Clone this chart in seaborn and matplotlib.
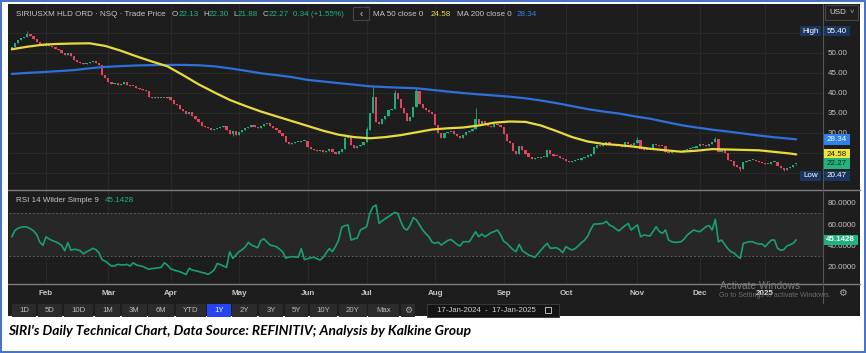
import matplotlib
matplotlib.use("Agg")
import matplotlib.pyplot as plt
from matplotlib.patches import Rectangle
from matplotlib.lines import Line2D
import seaborn as sns
import pandas as pd
import numpy as np

# ---------------------------------------------------------------------------
# Data (SIRI daily, 17-Jan-2024 .. 17-Jan-2025)
# ---------------------------------------------------------------------------
holidays = ['2024-02-19', '2024-03-29', '2024-05-27', '2024-06-19', '2024-07-04',
            '2024-09-02', '2024-11-28', '2024-12-25', '2025-01-01', '2025-01-09']
dates = pd.bdate_range('2024-01-17', '2025-01-17', freq='C', holidays=holidays)

# daily closes (open of each candle is taken as the prior close)
closes = [
    51.5, 52.4, 53.2, 53.8, 54.0, 54.8, 54.3, 53.5, 52.6, 52.0,
    51.6, 52.2, 51.6, 51.4, 51.0, 50.8, 50.0, 49.5, 49.9, 49.2,
    48.3, 47.6, 47.5, 47.2, 47.4, 47.6, 47.9, 47.4, 47.0, 44.5,
    43.8, 42.6, 42.2, 42.5, 42.0, 42.2, 42.6, 42.0, 41.8, 41.6,
    41.3, 41.0, 40.7, 40.4, 38.9, 38.8, 38.9, 38.7, 38.8, 38.6,
    38.9, 38.1, 37.2, 36.9, 36.0, 35.4, 34.6, 35.1, 34.3, 33.4,
    32.6, 31.8, 31.5, 31.1, 30.8, 31.0, 31.2, 31.4, 31.6, 30.6,
    29.7, 30.4, 29.5, 30.3, 30.8, 31.2, 31.5, 31.9, 31.5, 31.2,
    31.6, 32.2, 32.5, 31.6, 31.2, 30.6, 29.9, 29.1, 27.6, 27.3,
    27.5, 27.6, 27.7, 27.9, 28.0, 26.5, 25.9, 25.6, 25.4, 25.6,
    25.3, 25.5, 26.0, 25.1, 24.6, 25.3, 26.0, 28.6, 28.9, 27.0,
    26.3, 26.6, 26.9, 27.6, 30.8, 35.0, 39.0, 32.8, 32.2, 33.4,
    34.2, 35.6, 36.0, 40.0, 38.4, 36.2, 35.0, 33.0, 34.0, 36.5,
    40.5, 37.2, 36.3, 35.8, 35.1, 34.8, 31.9, 30.0, 28.7, 29.9,
    30.1, 30.3, 29.7, 29.3, 28.8, 29.5, 30.1, 30.4, 31.0, 33.5,
    32.3, 32.9, 32.2, 31.7, 31.5, 32.2, 32.0, 31.4, 29.6, 28.0,
    27.5, 25.4, 24.6, 26.7, 25.6, 24.8, 23.9, 23.4, 23.6, 23.7,
    23.9, 24.0, 25.6, 24.6, 24.3, 24.1, 23.7, 23.4, 22.9, 22.6,
    22.9, 23.1, 23.3, 23.6, 23.9, 24.3, 24.7, 26.3, 26.9, 26.6,
    27.0, 27.6, 26.9, 27.1, 26.8, 26.6, 26.5, 27.6, 27.2, 27.0,
    27.5, 28.3, 26.0, 25.8, 25.7, 25.8, 27.2, 27.0, 26.8, 26.6,
    25.1, 25.0, 25.2, 25.1, 25.3, 25.2, 25.6, 25.9, 26.1, 26.3,
    26.8, 27.2, 27.0, 26.8, 27.3, 27.8, 28.5, 25.3, 25.6, 25.0,
    23.2, 22.9, 21.8, 21.4, 20.9, 22.6, 22.9, 23.1, 23.3, 23.0,
    22.8, 22.5, 22.3, 22.1, 22.6, 22.7, 21.7, 21.2, 20.8, 21.1,
    21.5, 21.93, 22.27,
]
first_open = 51.0
last_open, last_high, last_low = 22.13, 22.30, 21.88

# visible wick spikes
spike_days = [5, 11, 107, 114, 116, 123, 130, 149, 201, 226]
spike_highs = [55.40, 52.7, 29.6, 31.5, 41.6, 40.6, 41.2, 36.2, 28.9, 29.0]
dip_days = [71, 234, 248]
dip_lows = [29.2, 20.47, 20.5]

# moving averages, read every fifth session
ma_days = list(range(0, 251, 5)) + [252]
ma50 = [50.85, 51.5, 52.0, 52.2, 52.3, 52.35, 51.7, 50.5, 49.1, 47.8,
        46.6, 44.4, 42.1, 40.1, 38.2, 36.7, 35.3, 34.1, 32.9, 31.7,
        30.5, 29.5, 28.9, 28.6, 28.9, 29.4, 30.1, 30.8, 31.1, 31.3,
        31.8, 32.5, 32.8, 32.7, 31.8, 30.4, 28.9, 27.8, 27.2, 26.9,
        26.5, 26.0, 25.6, 25.25, 25.5, 25.9, 25.8, 25.7, 25.6, 25.2,
        24.8, 24.58]
ma200 = [44.7, 44.95, 45.15, 45.4, 45.65, 46.1, 46.45, 46.65, 46.8, 46.9,
         46.95, 46.95, 46.85, 46.6, 46.1, 45.5, 44.85, 44.4, 43.9, 43.2,
         42.8, 42.4, 42.0, 41.6, 41.4, 41.25, 41.1, 40.7, 40.3, 39.9,
         39.6, 39.3, 39.0, 38.6, 38.05, 37.4, 36.65, 35.9, 35.3, 34.8,
         34.1, 33.5, 32.7, 31.9, 31.3, 30.75, 30.3, 29.8, 29.3, 28.85,
         28.5, 28.34]

# RSI 14 (Wilder), one value per session
rsi = [
    48, 54, 56, 57, 57.5, 57, 55.5, 53.5, 50, 43,
    40, 48, 46, 44.5, 43.5, 42, 40, 35, 42.5, 35.5,
    36.3, 36, 35, 32, 34, 35.5, 37.2, 36, 33, 26.5,
    25.3, 23, 20.6, 20.6, 22.2, 21.8, 21.6, 22.2, 20.6, 23.7,
    21.6, 21, 20.3, 19, 17.5, 18.3, 18.5, 19, 19.4, 23.7,
    21.6, 18, 17, 16.2, 15.3, 14, 12.8, 18.5, 16.9, 16.2,
    15.5, 14.6, 14, 12.8, 14.5, 17, 23, 22, 20.6, 19.4,
    34, 27.8, 31, 34.1, 36, 38.5, 42.8, 40.3, 39, 37.8,
    44.5, 46.2, 43, 40.3, 39.5, 38.8, 36.5, 34, 28, 29,
    29.4, 29.2, 28.8, 37, 26.6, 27.5, 28.3, 28.8, 27.5, 26.3,
    28.5, 33, 37, 34.1, 39, 45, 57, 58.5, 59.1, 45,
    46, 47, 54.4, 56, 57.5, 70, 76, 77.8, 60.6, 63,
    65, 67, 69, 70.9, 70, 62, 56, 54.4, 59, 66,
    63.8, 59, 54.4, 51, 48.1, 43, 42, 43, 40.3, 42.5,
    44.5, 45.6, 43.4, 40.9, 39.4, 43.4, 43.4, 43.4, 48.1, 52.8,
    48.1, 50.6, 48.1, 50, 51.9, 53, 54.4, 50, 44, 41.9,
    39, 36, 34.1, 40.9, 35, 33, 31, 30, 28.8, 32,
    35.6, 39, 41.9, 37.2, 37.5, 37.8, 36, 33.1, 38.8, 37,
    35.6, 37, 39.5, 42.5, 45, 48.5, 55, 60, 60, 60.3,
    60.6, 62.5, 59.1, 57.8, 55.5, 53.5, 56, 58.5, 60.6, 54.4,
    57, 59.1, 48.1, 49.7, 49.2, 48.8, 53, 57.5, 53, 51.3,
    54.4, 45, 43.5, 42.8, 43, 43.4, 46, 49.7, 52, 54.4,
    53.5, 52.8, 55, 57.5, 58.5, 54.4, 64.4, 43.4, 45, 41,
    37, 34.1, 33, 30, 27.8, 41.9, 42.8, 43.4, 43.4, 42,
    41.3, 41.3, 38.8, 42, 45, 45, 37.2, 35.5, 36, 39.4,
    40.5, 41.9, 45.1428,
]

price_ticks = [20, 25, 30, 35, 40, 45, 50, 55]
price_tick_shown = [30, 35, 40, 45, 50]
rsi_ticks = [20, 40, 60, 80]
period_buttons = ['1D', '5D', '10D', '1M', '3M', '6M', 'YTD', '1Y', '2Y', '3Y', '5Y', '10Y', '20Y', 'Max']
caption = "SIRI's Daily Technical Chart, Data Source: REFINITIV; Analysis by Kalkine Group"

# ---------------------------------------------------------------------------
# Look
# ---------------------------------------------------------------------------
W, H = 866, 353
BG = '#1d1d1d'
BAND = '#272727'
GRID = '#2a2a2a'
TXT = '#c6c6c6'
UP, DOWN = '#1fae7b', '#e5435d'
MA50_C, MA200_C, RSI_C = '#eadb3c', '#2f6fdc', '#1a9f74'
NAVY = '#1b3561'

sns.set_style('dark', {'axes.facecolor': BG, 'grid.color': GRID, 'axes.edgecolor': BG})
plt.rcParams['font.family'] = ['Liberation Sans', 'DejaVu Sans']

fig = plt.figure(figsize=(W / 100, H / 100), dpi=100)
fig.patch.set_facecolor('white')


def fx(px):
    return px / W


def fy(py):
    return 1 - py / H


def box(l, t, r, b):
    return [fx(l), fy(b), (r - l) / W, (b - t) / H]


def rect(l, t, r, b, fc, ec='none', lw=0, z=1):
    fig.add_artist(Rectangle((fx(l), fy(b)), (r - l) / W, (b - t) / H, transform=fig.transFigure,
                             fc=fc, ec=ec, lw=lw, zorder=z))


def hline(py, l, r, color, lw=1, z=1.5):
    fig.add_artist(Line2D([fx(l), fx(r)], [fy(py), fy(py)], transform=fig.transFigure,
                          color=color, lw=lw, zorder=z))


def label(px, py, s, color=TXT, size=5.8, **kw):
    return fig.text(fx(px), fy(py), s, color=color, fontsize=size, va='center', **kw)


# dark panel behind everything
rect(8, 3.5, 860, 316, BG, z=-2)

days = np.arange(len(dates))
pos = pd.Series(days, index=dates)
firsts = pos.groupby([dates.year, dates.month]).first().iloc[1:]
month_pos = firsts.values
month_lab = [str(y) if m == 1 else pd.Timestamp(year=y, month=m, day=1).strftime('%b')
             for (y, m) in firsts.index]

# ---------------------------------------------------------------------------
# Price panel
# ---------------------------------------------------------------------------
ax_p = fig.add_axes(box(9, 4, 823, 190))
ax_p.set_xlim(-0.9, 260.6)
ax_p.set_ylim(15.675, 62.175)

opens = [first_open] + closes[:-1]
opens[-1] = last_open
o = np.array(opens)
c = np.array(closes)
lo = np.minimum(o, c)
hi = np.maximum(o, c)
body = np.maximum(hi - lo, 0.25)
colors = [UP if cc >= oo else DOWN for oo, cc in zip(o, c)]

wick_hi = hi.copy()
wick_lo = lo.copy()
wick_hi[spike_days] = spike_highs
wick_lo[dip_days] = dip_lows
wick_hi[-1] = last_high
wick_lo[-1] = last_low
ax_p.vlines(days, wick_lo, wick_hi, colors=colors, lw=0.6, zorder=2)
ax_p.bar(days, body, bottom=lo, width=0.72, color=colors, linewidth=0, zorder=3)

ma_df = pd.DataFrame({'day': ma_days, 'ma50': ma50, 'ma200': ma200})
sns.lineplot(data=ma_df, x='day', y='ma200', ax=ax_p, color=MA200_C, lw=1.6, zorder=4)
sns.lineplot(data=ma_df, x='day', y='ma50', ax=ax_p, color=MA50_C, lw=1.6, zorder=4)

ax_p.set_xticks(month_pos)
ax_p.set_yticks(price_ticks)
ax_p.set_yticklabels([f'{t:.2f}' if t in price_tick_shown else '' for t in price_ticks])
ax_p.yaxis.tick_right()
ax_p.tick_params(axis='y', length=0, pad=3.6, labelsize=5.8, labelcolor=TXT)
ax_p.tick_params(axis='x', length=0, labelbottom=False)
ax_p.grid(True, color=GRID, lw=0.7)
ax_p.set_xlabel('')
ax_p.set_ylabel('')
for s in ax_p.spines.values():
    s.set_visible(False)

# ---------------------------------------------------------------------------
# RSI panel
# ---------------------------------------------------------------------------
ax_r = fig.add_axes(box(9, 190, 823, 284))
ax_r.set_xlim(-0.9, 260.6)
ax_r.set_ylim(3.79, 91.9)
ax_r.axhspan(30, 70, color=BAND, lw=0, zorder=0.5)
for lvl in (30, 70):
    ax_r.axhline(lvl, color='#5c5c5c', lw=0.7, ls=(0, (2, 2)), zorder=1)
sns.lineplot(x=days, y=rsi, ax=ax_r, color=RSI_C, lw=1.2, zorder=4)

ax_r.set_xticks(month_pos)
ax_r.set_xticklabels(month_lab)
ax_r.set_yticks(rsi_ticks)
ax_r.set_yticklabels([f'{t:.4f}' for t in rsi_ticks])
ax_r.yaxis.tick_right()
ax_r.tick_params(axis='y', length=0, pad=3.6, labelsize=5.8, labelcolor=TXT)
ax_r.tick_params(axis='x', length=0, pad=4.6, labelsize=5.8, labelcolor=TXT)
for t in ax_r.get_xticklabels():
    t.set_fontweight('bold')
    if t.get_text() == '2025':
        t.set_color('#e0e0e0')
ax_r.grid(True, axis='x', color=GRID, lw=0.7)
ax_r.grid(False, axis='y')
ax_r.set_xlabel('')
ax_r.set_ylabel('')
for s in ax_r.spines.values():
    s.set_visible(False)

# panel separators and value axis line
hline(190, 8, 860, '#7c7c7c', lw=1.0)
hline(284, 8, 860, '#7c7c7c', lw=1.0)
fig.add_artist(Line2D([fx(823), fx(823)], [fy(4), fy(303)], transform=fig.transFigure,
                      color='#555555', lw=0.8, zorder=1.5))

# ---------------------------------------------------------------------------
# Header texts
# ---------------------------------------------------------------------------
chg = closes[-1] - closes[-2]
G = '#22b37d'
label(16, 14, 'SIRIUSXM HLD ORD · NSQ · Trade Price')
label(172, 14, 'O')
label(178.5, 14, f'{last_open:.2f}', G)
label(203, 14, 'H')
label(208.5, 14, f'{last_high:.2f}', G)
label(233.5, 14, 'L')
label(238, 14, f'{last_low:.2f}', G)
label(262.5, 14, 'C')
label(268.5, 14, f'{closes[-1]:.2f}', G)
label(293, 14, f'{chg:.2f} (+{chg / closes[-2] * 100:.2f}%)', G)
rect(353, 7, 369, 20, BG, ec='#464646', lw=0.8, z=2)
label(361, 13.5, '‹', '#d0d0d0', size=7, ha='center')
label(373, 14, 'MA 50 close 0')
label(431, 14, f'{ma50[-1]:.2f}', MA50_C)
label(457, 14, 'MA 200 close 0')
label(517, 14, f'{ma200[-1]:.2f}', '#3a7fe6')

rect(825, 5, 858, 20, '#1f1f1f', ec='#454545', lw=0.8, z=2)
label(829, 12.5, 'USD', '#d6d6d6', size=5.8)
label(850, 12.5, '˅', '#b0b0b0', size=5.5)

label(16, 200, 'RSI 14 Wilder Simple 9')
label(104.5, 200, f'{rsi[-1]:.4f}', G)


# value tags on the right edge
def tag(ax, value, text, fc, tc, l=823.5, r=850, dy=0, bold=False, size=5.8):
    ypx = H - ax.transData.transform((0, value))[1] + dy
    rect(l, ypx - 5.3, r, ypx + 5.3, fc, z=2.5)
    fig.text(fx((l + r) / 2), fy(ypx), text, color=tc, fontsize=size, ha='center', va='center',
             fontweight='bold' if bold else 'normal', zorder=4)


tag(ax_p, max(spike_highs), 'High', NAVY, 'white', l=800, r=821)
tag(ax_p, max(spike_highs), f'{max(spike_highs):.2f}', NAVY, 'white')
tag(ax_p, ma200[-1], f'{ma200[-1]:.2f}', '#2f80ea', 'white')
tag(ax_p, ma50[-1], f'{ma50[-1]:.2f}', '#f2e43b', '#1a1a1a')
tag(ax_p, closes[-1], f'{closes[-1]:.2f}', '#1fb47f', '#1a1a1a')
tag(ax_p, min(dip_lows), 'Low', NAVY, 'white', l=800, r=821, dy=5)
tag(ax_p, min(dip_lows), f'{min(dip_lows):.2f}', NAVY, 'white', dy=5)
tag(ax_r, rsi[-1], f'{rsi[-1]:.4f}', '#1db37d', 'white', r=858, bold=True)

# ---------------------------------------------------------------------------
# Bottom toolbar
# ---------------------------------------------------------------------------
btn_edges = [(12, 36), (38, 62), (64, 93), (95, 120), (122, 147), (148, 174), (176, 206),
             (207, 231), (232, 257), (259, 283), (285, 308), (310, 337), (339, 367), (368, 399)]
for name, (l, r) in zip(period_buttons, btn_edges):
    active = name == '1Y'
    rect(l, 304, r, 316.5, '#2445f0' if active else '#2b2b2b', z=2)
    label((l + r) / 2, 311, name, 'white' if active else '#bcbcbc', size=5.6, ha='center')
rect(401, 304, 415, 316.5, '#2b2b2b', z=2)
label(408, 310.5, '⚙', '#a8a8a8', size=6.5, ha='center', family='DejaVu Sans')
rect(427, 303.5, 559, 316.5, '#141414', ec='#3a3a3a', lw=0.7, z=2)
label(437, 310.5, f"{dates[0]:%d-%b-%Y}  -  {dates[-1]:%d-%b-%Y}", '#d0d0d0', size=5.6)
rect(545, 306.5, 551, 313, 'none', ec='#bcbcbc', lw=0.7, z=3)
label(842, 293.5, '⚙', '#a8a8a8', size=7, ha='center', family='DejaVu Sans')

# Windows watermark captured in the screenshot
label(720, 286, 'Activate Windows', '#7b7b7b', size=7.3)
label(719, 295.5, 'Go to Settings to activate Windows.', '#6e6e6e', size=5.0)

# caption under the chart
cap = fig.text(fx(8.5), fy(331), caption, color='black', fontsize=8.5, fontweight='bold',
               fontstyle='italic', va='center', family=['Lato', 'Liberation Sans', 'DejaVu Sans'])
fig.canvas.draw()
cap.set_fontsize(cap.get_fontsize() * 463 / cap.get_window_extent().width)

# outer blue frame
fig.add_artist(Rectangle((fx(1), fy(351.5)), 863.5 / W, 350.5 / H, transform=fig.transFigure,
                         fill=False, ec='#4472c4', lw=1.4, zorder=6))

fig.savefig('out.png', dpi=100, facecolor='white')
